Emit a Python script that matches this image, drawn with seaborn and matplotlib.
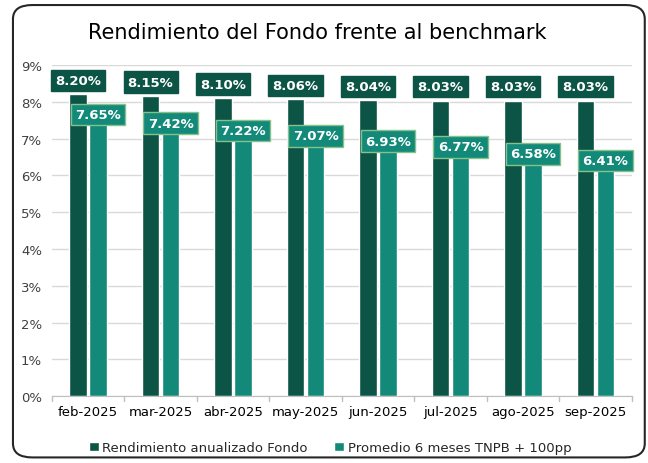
import pandas as pd
import numpy as np
import matplotlib
matplotlib.use('Agg')
import matplotlib.pyplot as plt
import seaborn as sns
from matplotlib.patches import FancyBboxPatch

# data
months = ['feb-2025', 'mar-2025', 'abr-2025', 'may-2025', 'jun-2025', 'jul-2025', 'ago-2025', 'sep-2025']
fondo = [8.20, 8.15, 8.10, 8.06, 8.04, 8.03, 8.03, 8.03]
bench = [7.65, 7.42, 7.22, 7.07, 6.93, 6.77, 6.58, 6.41]
series = ['Rendimiento anualizado Fondo', 'Promedio 6 meses TNPB + 100pp']
colors = ['#0C5446', '#138A79']

df = pd.DataFrame({
    'mes': months * 2,
    'valor': fondo + bench,
    'serie': [series[0]] * len(months) + [series[1]] * len(months),
})

sns.set_style('white')
plt.rcParams['font.family'] = ['DejaVu Sans']

fig = plt.figure(figsize=(6.48, 4.64), dpi=100)
ax = fig.add_axes([0.080, 0.144, 0.895, 0.714])

sns.barplot(data=df, x='mes', y='valor', hue='serie', palette=colors,
            width=0.55, gap=0.12, ax=ax, saturation=1)

ax.set_ylim(0, 9)
ax.set_yticks(range(0, 10))
ax.set_yticklabels([f'{i}%' for i in range(0, 10)], fontsize=9.5, color='#404040')
ax.tick_params(axis='x', labelsize=9.5, colors='#000000', length=0, pad=6)
ax.tick_params(axis='y', length=0, pad=7)
ax.set_xlabel('')
ax.set_ylabel('')
ax.yaxis.grid(True, color='#D9D9D9', linewidth=1)
ax.set_axisbelow(True)
for s in ['top', 'right', 'left']:
    ax.spines[s].set_visible(False)
ax.spines['bottom'].set_color('#BFBFBF')
ax.set_xlim(-0.5, len(months) - 0.5)
# category separator ticks
for i in range(len(months) + 1):
    ax.plot([i - 0.5, i - 0.5], [0, -0.12], color='#BFBFBF', lw=1, clip_on=False)

# data labels
for cont, vals, k in zip(ax.containers, [fondo, bench], [0, 1]):
    for bar, v in zip(cont, vals):
        xc = bar.get_x() + bar.get_width() / 2
        if k == 0:
            ax.text(xc, v + 0.38, f'{v:.2f}%', ha='center', va='center', fontsize=9.5,
                    fontweight='bold', color='white',
                    bbox=dict(boxstyle='square,pad=0.32', fc=colors[0], ec=colors[0]))
        else:
            ax.text(xc, v, f'{v:.2f}%', ha='center', va='center', fontsize=9.5,
                    fontweight='bold', color='white',
                    bbox=dict(boxstyle='square,pad=0.32', fc=colors[1], ec='#86C08A', lw=1))

ax.legend(loc='upper center', bbox_to_anchor=(0.48, -0.1), ncol=2, frameon=False,
          fontsize=9.5, handlelength=0.7, handleheight=0.7, handletextpad=0.3,
          columnspacing=2.0)

fig.text(0.49, 0.928, 'Rendimiento del Fondo frente al benchmark', ha='center', va='center',
         fontsize=15, color='#000000')

frame = FancyBboxPatch((0.02, 0.012), 0.975, 0.975, boxstyle='round,pad=0,rounding_size=0.03',
                       transform=fig.transFigure, fill=False, ec='#262626', lw=1.5)
fig.patches.append(frame)

fig.savefig('out.png', dpi=100)
